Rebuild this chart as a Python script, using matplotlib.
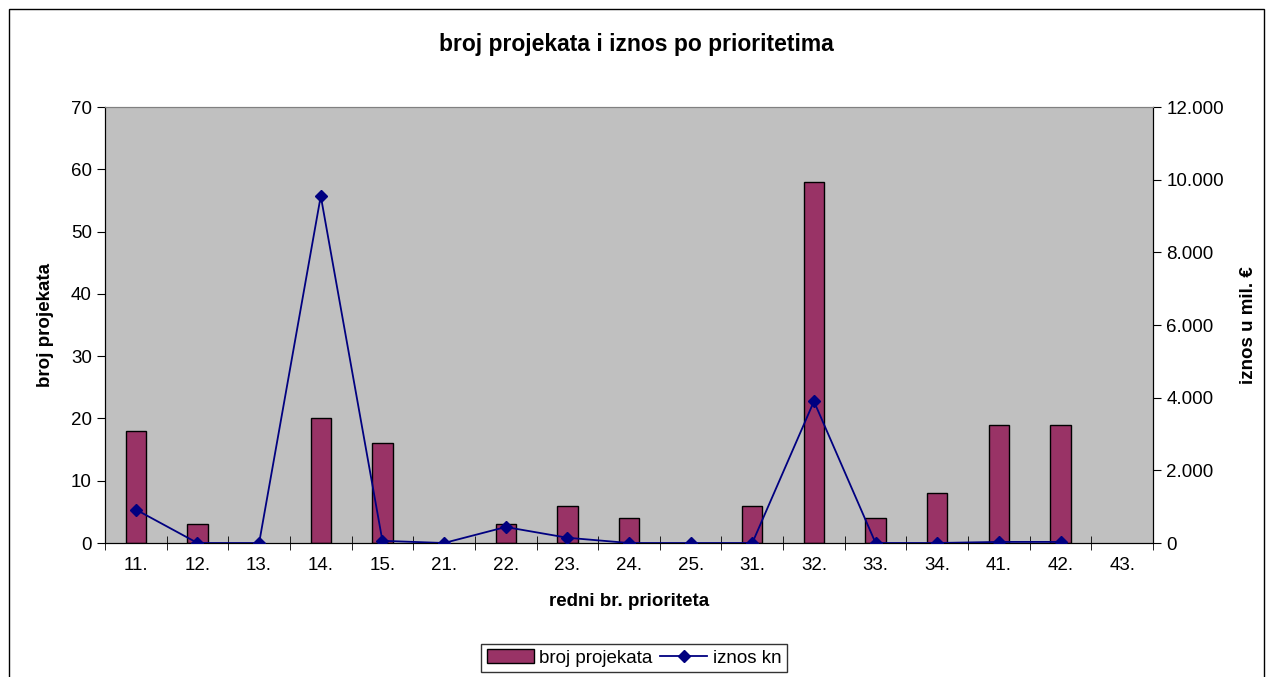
import numpy as np
import matplotlib
matplotlib.use("Agg")
import matplotlib.pyplot as plt
from matplotlib.ticker import FuncFormatter

plt.rcParams["font.family"] = ["Liberation Sans", "DejaVu Sans"]

categories = ["11.", "12.", "13.", "14.", "15.", "21.", "22.", "23.", "24.",
              "25.", "31.", "32.", "33.", "34.", "41.", "42.", "43."]
broj_projekata = [18, 3, 0, 20, 16, 0, 3, 6, 4, 0, 6, 58, 4, 8, 19, 19, 0]
iznos_kn = [920, 0, 0, 9550, 60, 0, 440, 145, 0, 0, 0, 3900, 0, 0, 30, 30, np.nan]

fig = plt.figure(figsize=(12.73, 6.77), dpi=100)
ax = fig.add_axes([105 / 1273, 1 - 543 / 677, 1048 / 1273, 436 / 677])
ax2 = ax.twinx()

x = np.arange(len(categories))
ax.set_facecolor("#C0C0C0")
edge_w = [1.0 if v > 0 else 0.0 for v in broj_projekata]
ax.bar(x, broj_projekata, width=0.33, color="#993366", edgecolor="black",
       linewidth=edge_w, label="broj projekata", zorder=2)
ax2.plot(x, iznos_kn, color="#000080", marker="D", markersize=6,
         linewidth=1.3, label="iznos kn", zorder=3)

ax.set_xlim(-0.5, len(categories) - 0.5)
ax.set_ylim(0, 70)
ax.set_yticks(range(0, 71, 10))
ax2.set_ylim(0, 12000)
ax2.set_yticks(range(0, 12001, 2000))
ax2.yaxis.set_major_formatter(FuncFormatter(lambda v, p: f"{int(v):,}".replace(",", ".")))

fs = 13.5
ax.set_xticks(x)
ax.set_xticklabels(categories)
ax.set_xticks(np.arange(-0.5, len(categories), 1), minor=True)
ax.tick_params(axis="x", which="major", length=0, labelsize=fs, pad=10)
ax.tick_params(axis="x", which="minor", length=10, direction="inout")
ax.tick_params(axis="y", length=6, labelsize=fs, direction="out")
ax2.tick_params(axis="y", length=6, labelsize=fs, direction="out")

for a in (ax, ax2):
    a.spines["top"].set_color("#808080")
    a.spines["left"].set_color("black")
    a.spines["bottom"].set_color("black")
ax2.spines["right"].set_color("black")

ax.set_xlabel("redni br. prioriteta", fontsize=fs, fontweight="bold", labelpad=14)
ax.set_ylabel("broj projekata", fontsize=fs, fontweight="bold", labelpad=12)
ax2.set_ylabel("iznos u mil. €", fontsize=fs, fontweight="bold", labelpad=12)
fig.text(0.5, 1 - 45 / 677, "broj projekata i iznos po prioritetima",
         ha="center", va="center", fontsize=16.5, fontweight="bold")

h1, l1 = ax.get_legend_handles_labels()
h2, l2 = ax2.get_legend_handles_labels()
leg = fig.legend(h1 + h2, l1 + l2, loc="center", bbox_to_anchor=(634 / 1273, 1 - 658 / 677),
                 ncol=2, fontsize=fs, frameon=True, fancybox=False, edgecolor="black",
                 handlelength=2.5, columnspacing=0.4, handletextpad=0.3, borderpad=0.3)
leg.get_frame().set_linewidth(1.0)

# outer chart frame
fig.patches.append(plt.Rectangle((9 / 1273, -0.05), 1255 / 1273, 1 - 9 / 677 + 0.05,
                                 transform=fig.transFigure, fill=False,
                                 edgecolor="black", linewidth=1.0))

fig.savefig("out.png", dpi=100)
